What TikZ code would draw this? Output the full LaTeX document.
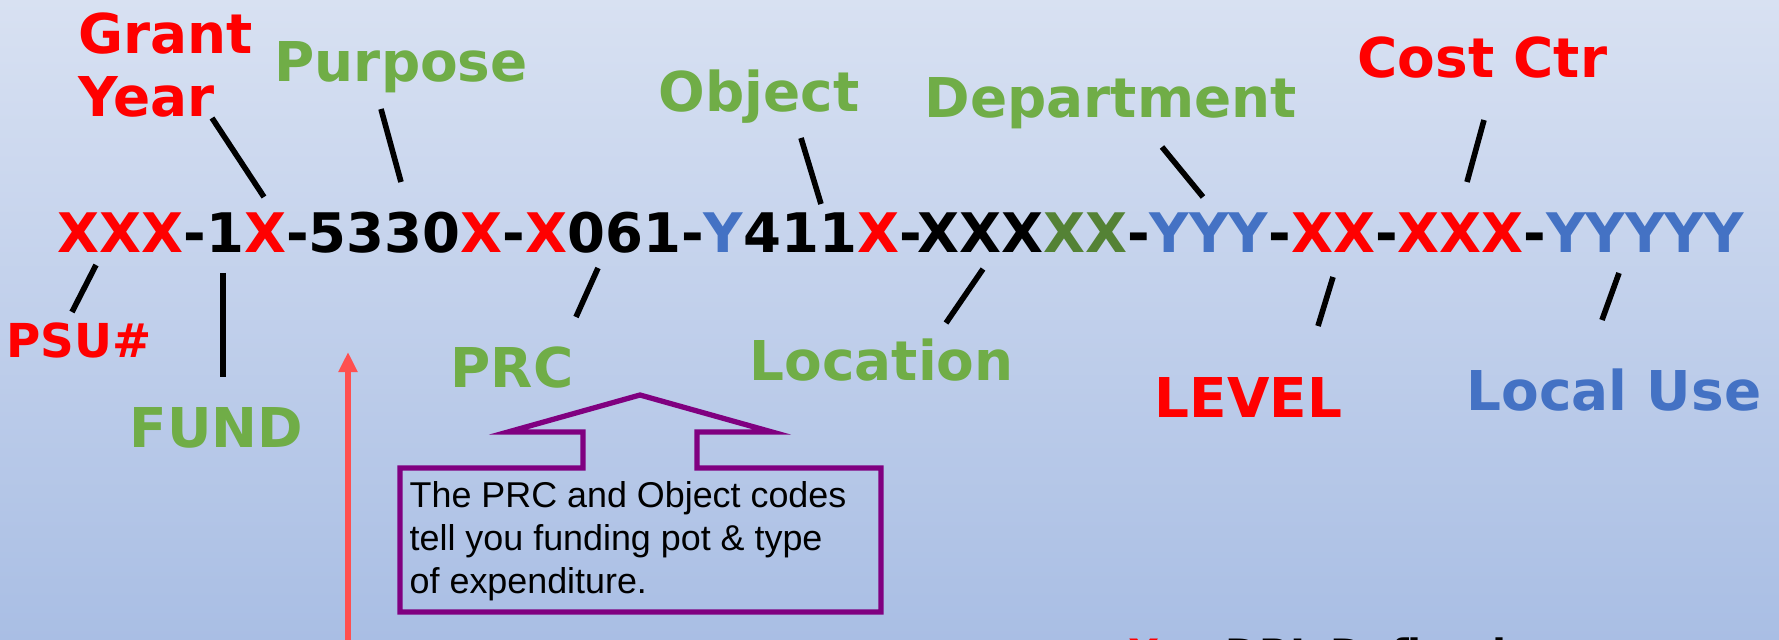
\documentclass[tikz,border=0pt]{standalone}
\usepackage{fontspec}
\setmainfont{DejaVu Sans}
\newfontfamily\boxfont{Liberation Sans}
\usetikzlibrary{arrows.meta}

\definecolor{cred}{RGB}{255,0,0}
\definecolor{cgreen}{RGB}{112,173,71}
\definecolor{cdkgreen}{RGB}{84,130,53}
\definecolor{cblue}{RGB}{68,114,196}
\definecolor{cpurple}{RGB}{128,0,128}
\definecolor{carrow}{RGB}{255,80,80}

\begin{document}
\begin{tikzpicture}[x=0.01cm,y=-0.01cm,
  lbl/.style={inner sep=0pt,anchor=base west,font=\bfseries\fontsize{15.6}{18}\selectfont},
  tick/.style={line width=1.6pt},
  ]
\clip (0,0) rectangle (1779,640);
\shade[top color={rgb,255:red,216;green,225;blue,242},bottom color={rgb,255:red,169;green,190;blue,228}] (0,0) rectangle (1779,640);

% the code string
\node[lbl,font=\bfseries\fontsize{15.5}{18}\selectfont] (code) at (57,253)
  {\textcolor{cred}{XXX}-1\textcolor{cred}{X}-5330\textcolor{cred}{X}-\textcolor{cred}{X}061-\textcolor{cblue}{Y}411\textcolor{cred}{X}-XXX\textcolor{cdkgreen}{XX}-\textcolor{cblue}{YYY}-\textcolor{cred}{XX}-\textcolor{cred}{XXX}-\textcolor{cblue}{YYYYY}};

% labels above
\node[lbl,anchor=north west,align=left,text=cred,font=\bfseries\fontsize{15.6}{17.9}\selectfont] (grantyear) at (78,12) {Grant\\Year};
\node[lbl,text=cgreen] (purpose) at (274,82) {Purpose};
\node[lbl,text=cgreen] (object) at (658,112) {Object};
\node[lbl,text=cgreen] (department) at (924,118) {Department};
\node[lbl,text=cred] (costctr) at (1357,78) {Cost Ctr};

% labels below
\node[lbl,text=cred,font=\bfseries\fontsize{13.3}{16}\selectfont] (psu) at (6,358) {PSU\#};
\node[lbl,text=cgreen] (fund) at (129,448) {FUND};
\node[lbl,text=cgreen] (prc) at (450,388) {PRC};
\node[lbl,text=cgreen] (location) at (749,380) {Location};
\node[lbl,text=cred] (level) at (1154,417) {LEVEL};
\node[lbl,text=cblue] (localuse) at (1466,410) {Local Use};

% tick ends
\coordinate (gy1) at (212,118); \coordinate (gy2) at (264,197);
\coordinate (pu1) at (381,109); \coordinate (pu2) at (401,182);
\coordinate (ob1) at (801,138); \coordinate (ob2) at (821,204);
\coordinate (de1) at (1162,147); \coordinate (de2) at (1203,197);
\coordinate (cc1) at (1484,120); \coordinate (cc2) at (1467,182);
\coordinate (ps1) at (96,265); \coordinate (ps2) at (72,312);
\coordinate (fu1) at (223,273); \coordinate (fu2) at (223,377);
\coordinate (pr1) at (598,268); \coordinate (pr2) at (576,317);
\coordinate (lo1) at (983,269); \coordinate (lo2) at (946,323);
\coordinate (le1) at (1333,277); \coordinate (le2) at (1318,326);
\coordinate (lu1) at (1619,273); \coordinate (lu2) at (1602,320);
\foreach \t in {gy,pu,ob,de,cc,ps,fu,pr,lo,le,lu}
  \draw[tick] (\t1) -- (\t2);

% callout
\draw[cpurple,line width=1.5pt] (400,468) -- (583,468) -- (583,432) -- (508,432) -- (640,395)
  -- (772,432) -- (697,432) -- (697,468) -- (881,468) -- (881,612) -- (400,612) -- cycle;
\node[inner sep=0pt,anchor=base west,align=left,font=\boxfont\fontsize{10.2}{12.2}\selectfont] (note) at (409,593)
  {The PRC and Object codes\\tell you funding pot \& type\\of expenditure.};

% red arrow
\coordinate (arrbot) at (348,660);
\coordinate (arrtop) at (348,352);
\draw[carrow,line width=1.7pt,-{Triangle[width=0.18cm,length=0.2cm]}] (arrbot) -- (arrtop);

% key, cut off at the bottom
\node[lbl,font=\bfseries\fontsize{11.5}{14}\selectfont] (key) at (1128,668) {\textcolor{cred}{X} –\hspace{5pt} DRL Defined};
\end{tikzpicture}
\end{document}
